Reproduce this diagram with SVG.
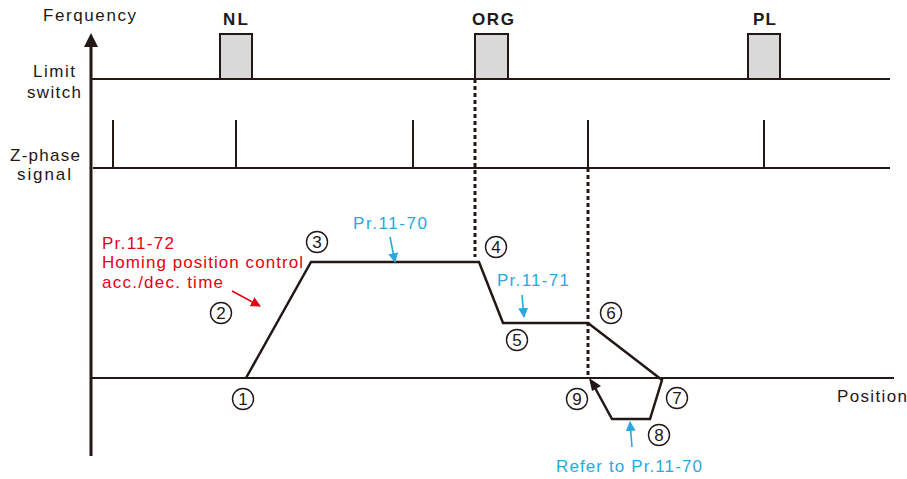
<svg xmlns="http://www.w3.org/2000/svg" width="907" height="479" viewBox="0 0 907 479">
<style>
  text { font-family: "Liberation Sans", Arial, sans-serif; font-size: 17px; fill: #231815; }
  .b { font-weight: bold; font-size: 17px; }
  .red { fill: #e60012; }
  .blue { fill: #29a8e0; }
  .ln { stroke: #231815; stroke-width: 2; fill: none; }
  .curve { stroke: #231815; stroke-width: 2.5; fill: none; stroke-linejoin: miter; }
  .dash { stroke: #231815; stroke-width: 3; stroke-dasharray: 4 3; fill: none; }
  .sw { fill: #d9d9d9; stroke: #231815; stroke-width: 2; }
  .num circle { fill: none; stroke: #231815; stroke-width: 1.4; }
  .num text { text-anchor: middle; font-size: 17px; }
  .ra { stroke: #e60012; stroke-width: 1.6; fill: none; }
  .ba { stroke: #29a8e0; stroke-width: 1.6; fill: none; }
</style>
<defs>
  <marker id="mr" markerWidth="10" markerHeight="10" refX="9" refY="5" orient="auto" markerUnits="userSpaceOnUse">
    <path d="M0,0 L10,5 L0,10 Z" fill="#e60012"/>
  </marker>
  <marker id="mb" markerWidth="10" markerHeight="10" refX="9" refY="5" orient="auto" markerUnits="userSpaceOnUse">
    <path d="M0,0 L10,5 L0,10 Z" fill="#29a8e0"/>
  </marker>
</defs>

<!-- axes -->
<g id="axes">
  <line class="ln" x1="91" y1="44" x2="91" y2="456" style="stroke-width:3"/>
  <path d="M84,47 L91,33 L98,47 Z" fill="#231815"/>
  <text x="43" y="21" textLength="93" lengthAdjust="spacing">Ferquency</text>
  <line class="ln" x1="91" y1="378" x2="894" y2="378"/>
  <text x="837" y="402" textLength="70" lengthAdjust="spacing">Position</text>
</g>

<!-- limit switch -->
<g id="limit-switch">
  <text x="33" y="77" textLength="42" lengthAdjust="spacing">Limit</text>
  <text x="27" y="98" textLength="54" lengthAdjust="spacing">switch</text>
  <line class="ln" x1="91" y1="79" x2="890" y2="79"/>
  <g id="NL">
    <rect class="sw" x="220" y="34" width="32" height="45"/>
    <text class="b" x="223" y="25" textLength="25" lengthAdjust="spacing">NL</text>
  </g>
  <g id="ORG">
    <rect class="sw" x="475" y="34" width="33" height="45"/>
    <text class="b" x="472" y="25" textLength="42" lengthAdjust="spacing">ORG</text>
  </g>
  <g id="PL">
    <rect class="sw" x="748" y="34" width="32" height="45"/>
    <text class="b" x="753" y="25" textLength="23" lengthAdjust="spacing">PL</text>
  </g>
</g>

<!-- Z-phase -->
<g id="z-phase">
  <text x="10" y="161" textLength="70" lengthAdjust="spacing">Z-phase</text>
  <text x="17" y="180" textLength="54" lengthAdjust="spacing">signal</text>
  <line class="ln" x1="93" y1="168" x2="890" y2="168"/>
  <line class="ln" x1="113" y1="120" x2="113" y2="168"/>
  <line class="ln" x1="236" y1="120" x2="236" y2="168"/>
  <line class="ln" x1="413" y1="120" x2="413" y2="168"/>
  <line class="ln" x1="588" y1="120" x2="588" y2="168"/>
  <line class="ln" x1="764" y1="120" x2="764" y2="168"/>
</g>

<!-- connectors -->
<g id="connectors">
  <line class="dash" x1="475" y1="79" x2="475" y2="257"/>
  <line class="dash" x1="588" y1="168" x2="588" y2="376"/>
  <polyline class="curve" points="246,378 311,262 479,262 503,323 588,323 662,380 650,419 612,419 594,386"/>
  <path d="M589,378 L601,386 L592,391 Z" fill="#231815"/>
  <line class="ra" x1="232" y1="291" x2="260" y2="306" marker-end="url(#mr)"/>
  <line class="ba" x1="390" y1="237" x2="395" y2="262" marker-end="url(#mb)"/>
  <line class="ba" x1="522" y1="295" x2="524" y2="317" marker-end="url(#mb)"/>
  <line class="ba" x1="632" y1="447" x2="630" y2="422" marker-end="url(#mb)"/>
</g>

<!-- annotations -->
<g id="label-pr1172">
  <text class="red" x="102" y="249" textLength="72" lengthAdjust="spacing">Pr.11-72</text>
  <text class="red" x="102" y="268" textLength="201" lengthAdjust="spacing">Homing position control</text>
  <text class="red" x="102" y="288" textLength="121" lengthAdjust="spacing">acc./dec. time</text>
</g>
<g id="label-pr1170">
  <text class="blue" x="353" y="229" textLength="74" lengthAdjust="spacing">Pr.11-70</text>
</g>
<g id="label-pr1171">
  <text class="blue" x="497" y="286" textLength="72" lengthAdjust="spacing">Pr.11-71</text>
</g>
<g id="label-refer">
  <text class="blue" x="556" y="472" textLength="146" lengthAdjust="spacing">Refer to Pr.11-70</text>
</g>

<!-- circled step numbers -->
<g id="n1" class="num"><circle cx="243" cy="399" r="10.5"/><text x="243" y="405">1</text></g>
<g id="n2" class="num"><circle cx="221" cy="313" r="10.5"/><text x="221" y="319">2</text></g>
<g id="n3" class="num"><circle cx="317" cy="242" r="10.5"/><text x="317" y="248">3</text></g>
<g id="n4" class="num"><circle cx="496" cy="247" r="10.5"/><text x="496" y="253">4</text></g>
<g id="n5" class="num"><circle cx="517" cy="340" r="10.5"/><text x="517" y="346">5</text></g>
<g id="n6" class="num"><circle cx="611" cy="313" r="10.5"/><text x="611" y="319">6</text></g>
<g id="n7" class="num"><circle cx="677" cy="398" r="10.5"/><text x="677" y="404">7</text></g>
<g id="n8" class="num"><circle cx="659" cy="435" r="10.5"/><text x="659" y="441">8</text></g>
<g id="n9" class="num"><circle cx="577" cy="399" r="10.5"/><text x="577" y="405">9</text></g>
</svg>
